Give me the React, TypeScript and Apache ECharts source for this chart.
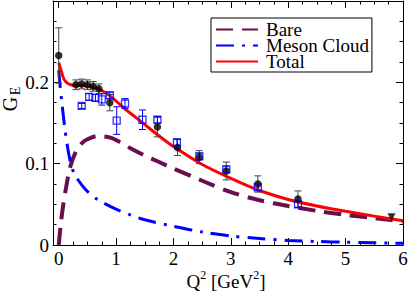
import React, { useEffect, useRef } from "react";
import * as echarts from "echarts";

// ---- curves (Q^2 in GeV^2, G_E) ----
const bareQ = [0, 0.03, 0.066, 0.12, 0.2, 0.3, 0.4, 0.5, 0.675, 0.9, 1.08, 1.25, 1.5, 1.75, 2.0, 2.5, 3.0, 3.5, 4.0, 4.5, 5.0, 5.5, 6.0];
const bareG = [0, 0.022, 0.043, 0.0675, 0.096, 0.115, 0.125, 0.13, 0.134, 0.132, 0.126, 0.119, 0.11, 0.102, 0.094, 0.079, 0.065, 0.055, 0.048, 0.042, 0.037, 0.033, 0.029];

const mesonQ = [0, 0.02, 0.05, 0.1, 0.15, 0.2, 0.26, 0.3, 0.4, 0.5, 0.675, 1.0, 1.25, 1.5, 2.0, 2.5, 3.0, 3.5, 4.0, 4.5, 5.0, 5.5, 6.0];
const mesonG = [0.215, 0.198, 0.178, 0.147, 0.122, 0.103, 0.089, 0.084, 0.074, 0.066, 0.056, 0.044, 0.037, 0.031, 0.023, 0.016, 0.011, 0.008, 0.0055, 0.0043, 0.0034, 0.0027, 0.0021];

const totalQ = [0, 0.04, 0.09, 0.15, 0.21, 0.3, 0.44, 0.55, 0.65, 0.75, 0.88, 1.0, 1.11, 1.25, 1.5, 1.75, 2.0, 2.5, 3.0, 3.5, 4.0, 4.5, 5.0, 5.5, 6.0];
const totalG = [0.224, 0.215, 0.204, 0.199, 0.197, 0.196, 0.196, 0.195, 0.193, 0.19, 0.184, 0.177, 0.17, 0.162, 0.148, 0.134, 0.121, 0.099, 0.082, 0.067, 0.056, 0.048, 0.0415, 0.0355, 0.0298];

// ---- data: black circles ----
const blackQ = [0.0, 0.3, 0.4, 0.5, 0.6, 0.7, 0.89, 1.72, 2.07, 2.45, 2.92, 3.47, 4.17];
const blackG = [0.233, 0.197, 0.198, 0.197, 0.195, 0.192, 0.175, 0.145, 0.12, 0.108, 0.091, 0.075, 0.0565];
const blackErr = [0.034, 0.006, 0.006, 0.006, 0.006, 0.006, 0.01, 0.012, 0.01, 0.008, 0.011, 0.01, 0.01];

// ---- data: blue open squares ----
const blueQ = [0.4, 0.53, 0.64, 0.75, 0.89, 1.01, 1.155, 1.46, 1.72, 2.06, 2.45, 2.92, 3.47, 4.17];
const blueG = [0.171, 0.182, 0.181, 0.179, 0.184, 0.153, 0.174, 0.154, 0.154, 0.126, 0.109, 0.093, 0.071, 0.05];
const blueErr = [0.003, 0.004, 0.004, 0.007, 0.004, 0.017, 0.006, 0.012, 0.004, 0.004, 0.004, 0.004, 0.004, 0.004];

// ---- data: triangle ----
const triQ = [5.8];
const triG = [0.034];

const yTicks = ["0", "0.1", "0.2"];

const FONT = "Liberation Serif";
const PURPLE = "#6a0f4e";
const BLUE = "#0000ff";
const RED = "#ff0000";

const zip = (a: number[], b: number[]) => a.map((v, i) => [v, b[i]]);
const errData = (q: number[], g: number[], e: number[]) => q.map((v, i) => [v, g[i] - e[i], g[i] + e[i]]);

const errSeries = (name: string, data: number[][], color: string) => ({
  name,
  type: "custom",
  xAxisIndex: 0,
  yAxisIndex: 0,
  data,
  encode: { x: 0, y: [1, 2] },
  z: 3,
  renderItem: (params: any, api: any) => {
    const x = api.value(0);
    const lo = api.coord([x, api.value(1)]);
    const hi = api.coord([x, api.value(2)]);
    const w = 3.5;
    const style = { stroke: color, lineWidth: 1 };
    return {
      type: "group",
      children: [
        { type: "line", shape: { x1: lo[0], y1: lo[1], x2: hi[0], y2: hi[1] }, style },
        { type: "line", shape: { x1: lo[0] - w, y1: lo[1], x2: lo[0] + w, y2: lo[1] }, style },
        { type: "line", shape: { x1: hi[0] - w, y1: hi[1], x2: hi[0] + w, y2: hi[1] }, style },
      ],
    };
  },
});

const baseX = (position: string, step: number, major: boolean, labels: boolean) => ({
  type: "value",
  position,
  min: -0.1,
  max: 6,
  minInterval: step,
  maxInterval: step,
  splitNumber: 6,
  axisLine: { show: major, onZero: false, lineStyle: { color: "#000", width: 1 } },
  axisTick: { show: true, inside: true, length: major ? 7 : 3.5, lineStyle: { color: "#000", width: 1 } },
  axisLabel: {
    show: labels,
    margin: 4,
    fontFamily: FONT,
    fontSize: 19,
    color: "#000",
    formatter: (v: number) => (Math.abs(v - Math.round(v)) < 1e-6 ? String(Math.round(v)) : ""),
  },
  splitLine: { show: false },
});

const baseY = (position: string, labels: boolean) => ({
  type: "value",
  position,
  min: 0,
  max: 0.3,
  interval: 0.1,
  axisLine: { show: true, onZero: false, lineStyle: { color: "#000", width: 1 } },
  axisTick: { show: true, inside: true, length: 7, lineStyle: { color: "#000", width: 1 } },
  minorTick: { show: true, splitNumber: 4, length: 3.5, lineStyle: { color: "#000", width: 1 } },
  axisLabel: {
    show: labels,
    margin: 4,
    fontFamily: FONT,
    fontSize: 19,
    color: "#000",
    formatter: (v: number) => {
      const i = Math.round(v * 10);
      return i < yTicks.length ? yTicks[i] : "";
    },
  },
  splitLine: { show: false },
});

export default function App() {
  const ref = useRef<HTMLDivElement>(null);
  useEffect(() => {
    if (!ref.current) return;
    const chart = echarts.init(ref.current, null, { renderer: "svg" });
    chart.setOption({
      animation: false,
      backgroundColor: "#fff",
      grid: { left: 53, right: 6, top: 1, bottom: 47, outerBoundsMode: "none", containLabel: false },
      xAxis: [
        baseX("bottom", 1, true, true),
        baseX("bottom", 0.25, false, false),
        baseX("top", 1, true, false),
        baseX("top", 0.25, false, false),
      ],
      yAxis: [baseY("left", true), baseY("right", false)],
      legend: {
        data: ["Bare", "Meson Cloud", "Total"],
        orient: "vertical",
        left: 211,
        top: 18,
        itemWidth: 42,
        itemHeight: 12,
        itemGap: -3,
        padding: [2, 3, 1, 4],
        borderColor: "#000",
        borderWidth: 1,
        borderRadius: 0,
        backgroundColor: "#fff",
        itemStyle: { opacity: 0, borderWidth: 0 },
        textStyle: { fontFamily: FONT, fontSize: 19, color: "#000", lineHeight: 16.7, padding: [0, 0, 0, 3] },
      },
      graphic: [
        {
          type: "text",
          x: 10,
          y: 104,
          rotation: Math.PI / 2,
          style: { text: "G", fontFamily: FONT, fontSize: 20, lineHeight: 17, fill: "#000", align: "center", verticalAlign: "middle" },
        },
        {
          type: "text",
          x: 15.5,
          y: 91,
          rotation: Math.PI / 2,
          style: { text: "E", fontFamily: FONT, fontSize: 14, lineHeight: 12, fill: "#000", align: "center", verticalAlign: "middle" },
        },
        {
          type: "text",
          x: 226,
          y: 281,
          style: {
            text: "{a|Q}{s|2}{a| [GeV}{s|2}{a|]}",
            align: "center",
            verticalAlign: "middle",
            fill: "#000",
            rich: {
              a: { fontFamily: FONT, fontSize: 19, fill: "#000" },
              s: { fontFamily: FONT, fontSize: 12, fill: "#000", padding: [0, 0, 12, 0] },
            },
          },
        },
      ],
      series: [
        {
          name: "Bare",
          type: "line",
          data: zip(bareQ, bareG),
          symbol: "none",
          smooth: 0.3,
          z: 2,
          lineStyle: { color: PURPLE, width: 4, type: [17, 9], cap: "butt" },
          itemStyle: { color: PURPLE },
        },
        {
          name: "Meson Cloud",
          type: "line",
          data: zip(mesonQ, mesonG),
          symbol: "none",
          smooth: 0.3,
          z: 2,
          lineStyle: { color: BLUE, width: 3, type: [18, 8, 3, 8], cap: "butt" },
          itemStyle: { color: BLUE },
        },
        {
          name: "Total",
          type: "line",
          data: zip(totalQ, totalG),
          symbol: "none",
          smooth: 0.3,
          z: 2,
          lineStyle: { color: RED, width: 3 },
          itemStyle: { color: RED },
        },
        errSeries("blackErr", errData(blackQ, blackG, blackErr), "#444"),
        {
          name: "blackPts",
          type: "scatter",
          data: zip(blackQ, blackG),
          symbol: "circle",
          symbolSize: 7.5,
          z: 4,
          itemStyle: { color: "#000" },
        },
        errSeries("blueErr", errData(blueQ, blueG, blueErr), BLUE),
        {
          name: "bluePts",
          type: "scatter",
          data: zip(blueQ, blueG),
          symbol: "rect",
          symbolSize: 7,
          z: 5,
          itemStyle: { color: "rgba(0,0,0,0)", borderColor: BLUE, borderWidth: 1.3 },
        },
        {
          name: "triPts",
          type: "scatter",
          data: zip(triQ, triG),
          symbol: "triangle",
          symbolRotate: 180,
          symbolSize: 8,
          z: 4,
          itemStyle: { color: "#000" },
        },
      ],
    });
    return () => chart.dispose();
  }, []);
  return <div ref={ref} style={{ width: 409, height: 292, position: "fixed", left: 0, top: 0, background: "#fff" }} />;
}
